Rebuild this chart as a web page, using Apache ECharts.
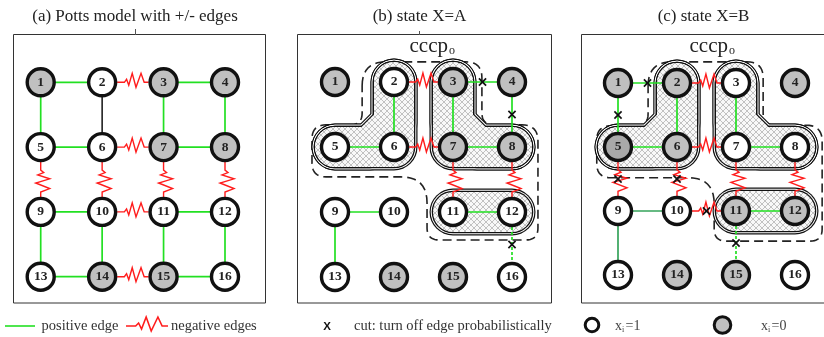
<!DOCTYPE html>
<html>
<head>
<meta charset="utf-8">
<script src="https://cdn.jsdelivr.net/npm/echarts/dist/echarts.min.js"></script>
<style>
  html, body { margin: 0; padding: 0; background: #fff; }
  #chart { width: 824px; height: 337px; }
</style>
</head>
<body>
<div id="chart"></div>
<script>
// ---- graph data -------------------------------------------------------
// 4x4 lattice, node ids 1..16 (row-major)
const nodeIds = [1, 2, 3, 4, 5, 6, 7, 8, 9, 10, 11, 12, 13, 14, 15, 16];

// label x_i of each node: 1 = white, 0 = gray
const statesA = [0, 1, 0, 0, 1, 1, 0, 0, 1, 1, 1, 1, 1, 0, 0, 1];
const statesB = [0, 1, 0, 0, 1, 1, 0, 0, 1, 1, 1, 1, 1, 0, 0, 1];
const statesC = [0, 0, 1, 0, 0, 0, 1, 1, 1, 1, 0, 0, 1, 0, 0, 1];

// edges: [from, to, sign]  sign: 1 positive, -1 negative, 0 plain
const edgesA = [
  [1, 2, 1], [2, 3, -1], [3, 4, 1],
  [1, 5, 1], [2, 6, 0], [3, 7, 1], [4, 8, 1],
  [5, 6, 1], [6, 7, -1], [7, 8, 1],
  [5, 9, -1], [6, 10, -1], [7, 11, -1], [8, 12, -1],
  [9, 10, 1], [10, 11, -1], [11, 12, 1],
  [9, 13, 1], [10, 14, 1], [11, 15, 1], [12, 16, 1],
  [13, 14, 1], [14, 15, -1], [15, 16, 1]
];
// edges after sampling: [from, to, sign, cut]  cut: 0 kept, 1 cut, 2 cut (dashed)
const edgesB = [
  [2, 3, -1, 0], [3, 4, 1, 1], [4, 8, 1, 1],
  [2, 6, 1, 0], [5, 6, 1, 0], [6, 7, -1, 0], [3, 7, 1, 0], [7, 8, 1, 0],
  [7, 11, -1, 0], [8, 12, -1, 0], [11, 12, 1, 0], [12, 16, 1, 2],
  [9, 10, 1, 0], [9, 13, 1, 0]
];
const edgesC = [
  [1, 2, 1, 1], [1, 5, 1, 1], [2, 3, -1, 0],
  [2, 6, 1, 0], [5, 6, 1, 0], [6, 7, -1, 0], [3, 7, 1, 0], [7, 8, 1, 0],
  [5, 9, -1, 1], [6, 10, -1, 1], [7, 11, -1, 0], [8, 12, -1, 0],
  [10, 11, -1, 1], [11, 12, 1, 0], [11, 15, 1, 2],
  [9, 10, 1, 0], [9, 13, 1, 0]
];

// connected components (node paths)
const clustersB = [[2, 6, 5], [3, 7, 8], [11, 12]];
const clustersC = [[2, 6, 5], [3, 7, 8], [11, 12]];

// ---- helpers ----------------------------------------------------------
const colOf = id => (id - 1) % 4;
const rowOf = id => Math.floor((id - 1) / 4);

const SERIF = '"Liberation Serif", "Times New Roman", serif';
const GREEN = '#22e022';
const GREEN_DIM = '#34a35a';
const RED = '#ff1c1c';
const INK = '#111';
const GRAY = '#c0c0c0';
const NODE_R = 15;

// cross-hatch tile for cluster fill
const hatch = (function () {
  const c = document.createElement('canvas');
  c.width = 6; c.height = 6;
  const g = c.getContext('2d');
  g.fillStyle = '#f8f8f8';
  g.fillRect(0, 0, 6, 6);
  g.strokeStyle = '#afafaf';
  g.lineWidth = 0.75;
  g.beginPath();
  g.moveTo(-1, -1); g.lineTo(7, 7);
  g.moveTo(7, -1); g.lineTo(-1, 7);
  g.stroke();
  return { image: c, repeat: 'repeat' };
})();

// zig-zag profile: [fraction along edge, lateral offset px]
const ZZ = [[0, 0], [0.23, 0], [0.30, -3], [0.37, 3], [0.48, -9], [0.60, 5], [0.76, -9], [0.86, 0], [1, 0]];
function zigzag(a, b, inset) {
  const dx = b[0] - a[0], dy = b[1] - a[1];
  const len = Math.hypot(dx, dy);
  const ux = dx / len, uy = dy / len;
  const nx = uy, ny = -ux;
  const s = [a[0] + ux * inset, a[1] + uy * inset];
  const L = len - 2 * inset;
  return ZZ.map(([t, o]) => [s[0] + ux * L * t - nx * o, s[1] + uy * L * t - ny * o]);
}

function crossMark(m, k) {
  return [
    { type: 'line', shape: { x1: m[0] - k, y1: m[1] - k, x2: m[0] + k, y2: m[1] + k }, style: { stroke: INK, lineWidth: 1.7 } },
    { type: 'line', shape: { x1: m[0] + k, y1: m[1] - k, x2: m[0] - k, y2: m[1] + k }, style: { stroke: INK, lineWidth: 1.7 } }
  ];
}

function roundedRing(pts, radii) {
  const out = [];
  const n = pts.length;
  for (let i = 0; i < n; i++) {
    const c = pts[i], p = pts[(i - 1 + n) % n], q = pts[(i + 1) % n];
    const d1 = Math.hypot(p[0] - c[0], p[1] - c[1]);
    const d2 = Math.hypot(q[0] - c[0], q[1] - c[1]);
    const r = Math.min(radii[i], d1 / 2, d2 / 2);
    const a = [c[0] + (p[0] - c[0]) / d1 * r, c[1] + (p[1] - c[1]) / d1 * r];
    const b = [c[0] + (q[0] - c[0]) / d2 * r, c[1] + (q[1] - c[1]) / d2 * r];
    for (let k = 0; k <= 10; k++) {
      const t = k / 10, u = 1 - t;
      out.push([u * u * a[0] + 2 * u * t * c[0] + t * t * b[0], u * u * a[1] + 2 * u * t * c[1] + t * t * b[1]]);
    }
  }
  return out;
}

// point at distance d from c towards p
function toward(c, p, d) {
  const l = Math.hypot(p[0] - c[0], p[1] - c[1]);
  return [c[0] + (p[0] - c[0]) / l * d, c[1] + (p[1] - c[1]) / l * d];
}

// ---- series builders ---------------------------------------------------
function nodeSeries(gi, states, darker) {
  return {
    type: 'scatter', xAxisIndex: gi, yAxisIndex: gi, z: 6, silent: true, clip: false,
    symbol: 'circle', symbolSize: 27,
    data: nodeIds.map((id, i) => ({
      value: [colOf(id), rowOf(id), id],
      itemStyle: {
        color: states[i] ? '#fff' : (darker && darker.indexOf(id) >= 0 ? '#a9a9a9' : GRAY),
        borderColor: INK, borderWidth: 3.4, opacity: 1
      }
    })),
    itemStyle: { opacity: 1 },
    label: {
      show: true, position: 'inside', formatter: p => String(p.value[2]),
      fontFamily: SERIF, fontWeight: 'bold', fontSize: 13.5, color: '#222'
    }
  };
}

function edgeSeries(gi, edges, dimEdges) {
  return {
    type: 'custom', xAxisIndex: gi, yAxisIndex: gi, z: 4, silent: true, clip: false,
    data: edges.map(e => {
      const dim = dimEdges && dimEdges.some(d => d[0] === e[0] && d[1] === e[1]) ? 1 : 0;
      return [colOf(e[0]), rowOf(e[0]), colOf(e[1]), rowOf(e[1]), e[2], e[3] || 0, dim];
    }),
    renderItem: function (params, api) {
      const a = api.coord([api.value(0), api.value(1)]);
      const b = api.coord([api.value(2), api.value(3)]);
      const sign = api.value(4), cut = api.value(5), dim = api.value(6);
      const kids = [];
      if (sign < 0) {
        kids.push({ type: 'polyline', shape: { points: zigzag(a, b, NODE_R) },
          style: { stroke: RED, lineWidth: 1.4, fill: 'none', lineJoin: 'miter' } });
      } else {
        const color = sign > 0 ? (dim ? GREEN_DIM : GREEN) : INK;
        kids.push({ type: 'line', shape: { x1: a[0], y1: a[1], x2: b[0], y2: b[1] },
          style: { stroke: color, lineWidth: sign > 0 ? 1.7 : 1.5, lineDash: cut === 2 ? [3, 2] : null } });
      }
      if (cut) {
        kids.push.apply(kids, crossMark([(a[0] + b[0]) / 2, (a[1] + b[1]) / 2], 3.6));
      }
      return { type: 'group', children: kids };
    }
  };
}

function clusterSeries(gi, clusters) {
  return {
    type: 'custom', xAxisIndex: gi, yAxisIndex: gi, z: 3, silent: true, clip: false,
    data: clusters.map((c, i) => [i, 0]),
    renderItem: function (params, api) {
      const ids = clusters[api.value(0)];
      const pts = ids.map(id => api.coord([colOf(id), rowOf(id)]));
      const paths = [pts];
      if (pts.length === 3) {
        // soften the inner corner of an L-shaped component
        paths.push([pts[0], toward(pts[1], pts[0], 24), toward(pts[1], pts[2], 24), pts[2]]);
      }
      const layers = [[47, INK], [44.6, '#fff'], [42.6, INK], [40, hatch]];
      const kids = [];
      layers.forEach(([w, c]) => {
        paths.forEach(p => kids.push({
          type: 'polyline', shape: { points: p },
          style: { stroke: c, lineWidth: w, lineCap: 'round', lineJoin: 'round', fill: 'none' }
        }));
      });
      return { type: 'group', children: kids };
    }
  };
}

function outlineSeries(gi, ring, radii) {
  return {
    type: 'custom', xAxisIndex: gi, yAxisIndex: gi, z: 2, silent: true, clip: false,
    data: [[0, 0]],
    renderItem: function (params, api) {
      const pts = ring.map(p => api.coord(p));
      return {
        type: 'polygon', shape: { points: roundedRing(pts, radii) },
        style: { stroke: '#222', lineWidth: 1.6, fill: 'none', lineDash: [9, 5] }
      };
    }
  };
}

// cccp_o boundary, in lattice units (col, row)
const ringB = [[0.46, -0.31], [2.49, -0.31], [2.49, 0.66], [3.44, 0.66], [3.44, 2.43],
  [1.56, 2.43], [1.56, 1.46], [-0.39, 1.46], [-0.39, 0.66], [0.46, 0.66]];
const ringC = [[0.51, -0.33], [2.46, -0.33], [2.46, 0.66], [3.46, 0.66], [3.46, 2.47],
  [1.63, 2.47], [1.63, 1.48], [-0.36, 1.48], [-0.36, 0.67], [0.51, 0.67]];
const ringRadii = [24, 16, 12, 16, 12, 12, 26, 14, 14, 12];

// ---- layout -------------------------------------------------------------
const grids = [
  { left: 40.7, top: 82.3, width: 184.3, height: 194.4 },
  { left: 335, top: 82, width: 177, height: 195 },
  { left: 618, top: 83, width: 177, height: 192 }
];
const axis = () => ({ type: 'value', min: 0, max: 3, show: false });

function txt(x, y, text, size, extra) {
  return Object.assign({
    type: 'text', x: x, y: y, z: 10, silent: true,
    style: Object.assign({ text: text, fontFamily: SERIF, fontSize: size, fill: '#222',
      align: 'center', verticalAlign: 'middle' }, extra || {})
  });
}

const LEG_Y = 326;
const graphics = [
  // panel frames
  { type: 'rect', z: 0, silent: true, shape: { x: 13.5, y: 34.5, width: 252, height: 268.5 }, style: { fill: '#fff', stroke: '#333', lineWidth: 1 } },
  { type: 'rect', z: 0, silent: true, shape: { x: 297.5, y: 34.5, width: 254, height: 268.5 }, style: { fill: '#fff', stroke: '#333', lineWidth: 1 } },
  { type: 'rect', z: 0, silent: true, shape: { x: 581.5, y: 34.5, width: 260, height: 268.5 }, style: { fill: '#fff', stroke: '#333', lineWidth: 1 } },
  { type: 'line', z: 1, silent: true, shape: { x1: 135.5, y1: 29, x2: 135.5, y2: 35 }, style: { stroke: '#555', lineWidth: 1 } },
  { type: 'line', z: 1, silent: true, shape: { x1: 419.5, y1: 31, x2: 419.5, y2: 35 }, style: { stroke: '#555', lineWidth: 1 } },
  // panel titles
  txt(135, 17, '(a) Potts model with +/- edges', 17),
  txt(419.5, 17, '(b) state X=A', 17),
  txt(703.5, 17, '(c) state X=B', 17),
  // cluster labels
  txt(448, 46, 'cccp', 21, { align: 'right' }),
  txt(449, 51, 'o', 12, { align: 'left' }),
  txt(728, 46, 'cccp', 21, { align: 'right' }),
  txt(729, 51, 'o', 12, { align: 'left' }),
  // legend
  { type: 'line', z: 10, silent: true, shape: { x1: 5, y1: LEG_Y, x2: 35, y2: LEG_Y }, style: { stroke: GREEN, lineWidth: 1.6 } },
  txt(41.5, LEG_Y, 'positive edge', 14.5, { align: 'left', fill: '#333' }),
  { type: 'polyline', z: 10, silent: true, shape: { points: zigzag([126, LEG_Y], [168, LEG_Y], 0) }, style: { stroke: RED, lineWidth: 1.6, fill: 'none' } },
  txt(171, LEG_Y, 'negative edges', 14.5, { align: 'left', fill: '#333' }),
  txt(327, LEG_Y + 0.5, 'X', 11.5, { fontFamily: '"Liberation Sans", Arial, sans-serif', fontWeight: 'bold', fill: '#111' }),
  txt(354, LEG_Y, 'cut: turn off edge probabilistically', 14.5, { align: 'left', fill: '#333' }),
  { type: 'circle', z: 10, silent: true, shape: { cx: 592, cy: LEG_Y - 1, r: 6.8 }, style: { fill: '#fff', stroke: INK, lineWidth: 3 } },
  txt(615, LEG_Y, 'x', 14, { align: 'left', fill: '#444' }),
  txt(622, LEG_Y + 4, 'i', 8, { align: 'left', fill: '#444' }),
  txt(625.5, LEG_Y, '=1', 14, { align: 'left', fill: '#444' }),
  { type: 'circle', z: 10, silent: true, shape: { cx: 722.5, cy: LEG_Y - 1, r: 8.3 }, style: { fill: GRAY, stroke: INK, lineWidth: 3 } },
  txt(761, LEG_Y, 'x', 14, { align: 'left', fill: '#444' }),
  txt(768, LEG_Y + 4, 'i', 8, { align: 'left', fill: '#444' }),
  txt(771.5, LEG_Y, '=0', 14, { align: 'left', fill: '#444' })
];

const chart = echarts.init(document.getElementById('chart'), null, { renderer: 'canvas' });
chart.setOption({
  animation: false,
  backgroundColor: '#fff',
  grid: grids,
  xAxis: grids.map((g, i) => Object.assign(axis(), { gridIndex: i })),
  yAxis: grids.map((g, i) => Object.assign(axis(), { gridIndex: i, inverse: true })),
  graphic: { elements: graphics },
  series: [
    // (a) full Potts lattice
    edgeSeries(0, edgesA),
    nodeSeries(0, statesA),
    // (b) state A
    outlineSeries(1, ringB, ringRadii),
    clusterSeries(1, clustersB),
    edgeSeries(1, edgesB),
    nodeSeries(1, statesB),
    // (c) state B
    outlineSeries(2, ringC, ringRadii),
    clusterSeries(2, clustersC),
    edgeSeries(2, edgesC, [[9, 10], [9, 13]]),
    nodeSeries(2, statesC, [5])
  ]
});
</script>
</body>
</html>
